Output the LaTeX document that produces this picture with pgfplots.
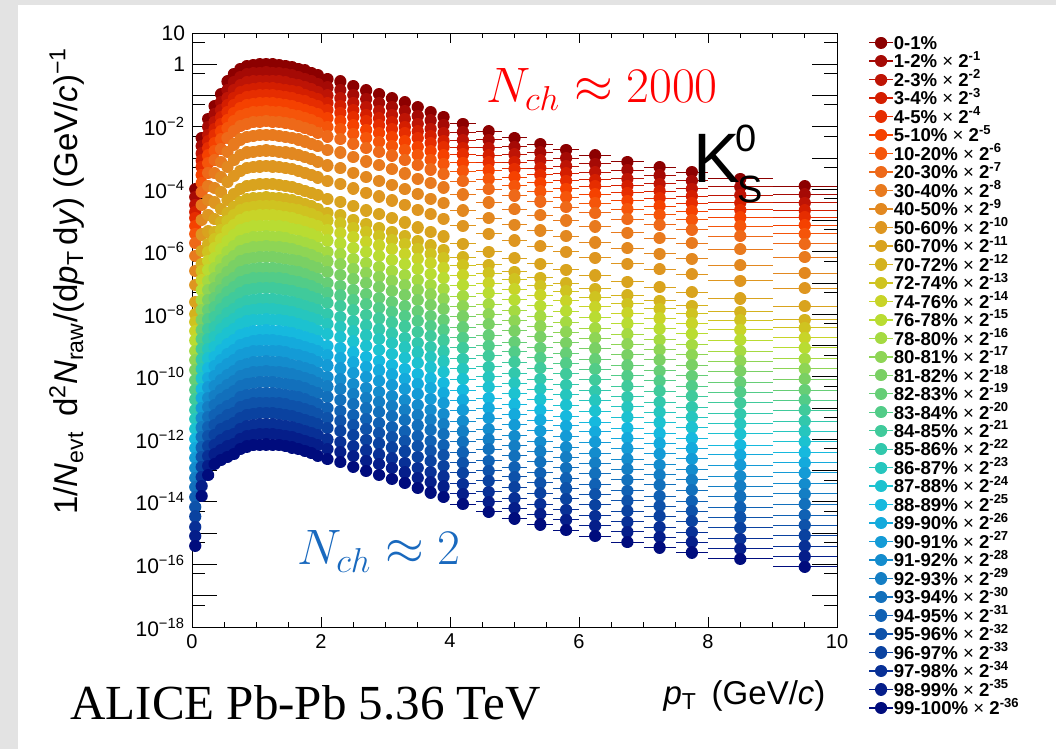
\documentclass[border=0pt]{standalone}
\usepackage{fontspec}
\setmainfont{Liberation Sans}
\newfontfamily\alicefont{Liberation Serif}
\usepackage{pgfplots}
\usepackage{pgfplotstable}
\pgfplotsset{compat=1.18}

\definecolor{c0}{RGB}{140,0,0}
\definecolor{c1}{RGB}{165,10,5}
\definecolor{c2}{RGB}{190,20,5}
\definecolor{c3}{RGB}{212,30,0}
\definecolor{c4}{RGB}{230,45,0}
\definecolor{c5}{RGB}{245,65,0}
\definecolor{c6}{RGB}{245,85,10}
\definecolor{c7}{RGB}{238,105,25}
\definecolor{c8}{RGB}{232,122,30}
\definecolor{c9}{RGB}{226,136,32}
\definecolor{c10}{RGB}{222,150,32}
\definecolor{c11}{RGB}{217,163,30}
\definecolor{c12}{RGB}{212,178,30}
\definecolor{c13}{RGB}{207,195,32}
\definecolor{c14}{RGB}{200,212,40}
\definecolor{c15}{RGB}{185,220,50}
\definecolor{c16}{RGB}{165,218,65}
\definecolor{c17}{RGB}{142,213,85}
\definecolor{c18}{RGB}{122,208,100}
\definecolor{c19}{RGB}{102,206,118}
\definecolor{c20}{RGB}{82,204,136}
\definecolor{c21}{RGB}{64,202,155}
\definecolor{c22}{RGB}{50,200,172}
\definecolor{c23}{RGB}{38,198,190}
\definecolor{c24}{RGB}{28,194,208}
\definecolor{c25}{RGB}{22,185,222}
\definecolor{c26}{RGB}{20,170,220}
\definecolor{c27}{RGB}{20,155,214}
\definecolor{c28}{RGB}{20,140,205}
\definecolor{c29}{RGB}{20,126,196}
\definecolor{c30}{RGB}{18,112,188}
\definecolor{c31}{RGB}{16,97,180}
\definecolor{c32}{RGB}{14,82,170}
\definecolor{c33}{RGB}{10,66,160}
\definecolor{c34}{RGB}{8,48,150}
\definecolor{c35}{RGB}{5,30,138}
\definecolor{c36}{RGB}{0,12,125}
\definecolor{nchblue}{RGB}{25,105,190}

% light-weight round marker: a tiny stroke with round caps
\pgfdeclareplotmark{rdot}{%
  \pgfsetlinewidth{2\pgfplotmarksize}%
  \pgfsetroundcap
  \pgfpathmoveto{\pgfpointorigin}%
  \pgfpathlineto{\pgfqpoint{0.01pt}{0pt}}%
  \pgfusepathqstroke}

\newcommand\cen[2]{#1\% {\mdseries ×} 2\textsuperscript{-#2}}

\pgfplotsset{
  lo/.style={forget plot, restrict x to domain=0:4},
  hi/.style={restrict x to domain=4:10,
    /pgfplots/error bars/x dir=both, /pgfplots/error bars/x explicit,
    /pgfplots/error bars/error mark=none,
    /pgfplots/error bars/error bar style={line width=0.5pt}},
}

% one row per centrality class, one column per pT bin (transposed below)
\pgfplotstableread{
name b1 b2 b3 b4 b5 b6 b7 b8 b9 b10 b11 b12 b13 b14 b15 b16 b17 b18 b19 b20 b21 b22 b23 b24 b25 b26 b27 b28 b29 b30 b31 b32 b33 b34 b35 b36 b37 b38 b39 b40 b41
pt 0.05 0.15 0.25 0.35 0.45 0.55 0.65 0.75 0.85 0.95 1.05 1.15 1.25 1.35 1.45 1.55 1.65 1.75 1.85 1.95 2.1 2.3 2.5 2.7 2.9 3.1 3.3 3.5 3.7 3.9 4.2 4.6 5.0 5.4 5.8 6.25 6.75 7.25 7.75 8.5 9.5
ex 0.05 0.05 0.05 0.05 0.05 0.05 0.05 0.05 0.05 0.05 0.05 0.05 0.05 0.05 0.05 0.05 0.05 0.05 0.05 0.05 0.1 0.1 0.1 0.1 0.1 0.1 0.1 0.1 0.1 0.1 0.2 0.2 0.2 0.2 0.2 0.25 0.25 0.25 0.25 0.5 0.5
y0 1.0e-4 4.4e-3 1.8e-2 4.6e-2 1.1e-1 2.8e-1 5.0e-1 7.2e-1 8.7e-1 9.5e-1 1.0 1.02 1.0 9.5e-1 8.9e-1 8.1e-1 7.2e-1 6.3e-1 5.4e-1 4.5e-1 3.4e-1 2.8e-1 2.0e-1 1.45e-1 1.1e-1 8.1e-2 6.0e-2 4.2e-2 2.95e-2 2.1e-2 1.26e-2 7.1e-3 4.4e-3 2.8e-3 1.86e-3 1.2e-3 7.6e-4 5.1e-4 3.55e-4 2.2e-4 1.26e-4
y1 5.6e-5 2.45e-3 1.0e-2 2.6e-2 6.2e-2 1.5e-1 2.7e-1 3.9e-1 4.7e-1 5.1e-1 5.4e-1 5.5e-1 5.4e-1 5.1e-1 4.8e-1 4.4e-1 3.9e-1 3.4e-1 2.9e-1 2.4e-1 1.8e-1 1.5e-1 1.07e-1 7.8e-2 5.9e-2 4.4e-2 3.2e-2 2.2e-2 1.6e-2 1.15e-2 6.8e-3 3.8e-3 2.3e-3 1.5e-3 1.0e-3 6.5e-4 4.1e-4 2.75e-4 1.9e-4 1.2e-4 6.8e-5
y2 3.2e-5 1.4e-3 5.6e-3 1.45e-2 3.5e-2 8.5e-2 1.5e-1 2.1e-1 2.6e-1 2.8e-1 2.95e-1 3.0e-1 2.95e-1 2.8e-1 2.6e-1 2.4e-1 2.1e-1 1.85e-1 1.6e-1 1.3e-1 1.0e-1 8.1e-2 5.9e-2 4.3e-2 3.2e-2 2.4e-2 1.8e-2 1.25e-2 8.7e-3 6.3e-3 3.7e-3 2.1e-3 1.3e-3 8.3e-4 5.5e-4 3.5e-4 2.2e-4 1.5e-4 1.05e-4 6.5e-5 3.7e-5
y3 1.9e-5 8.3e-4 3.4e-3 8.7e-3 2.0e-2 4.9e-2 8.5e-2 1.25e-1 1.5e-1 1.6e-1 1.7e-1 1.75e-1 1.7e-1 1.6e-1 1.5e-1 1.4e-1 1.25e-1 1.07e-1 9.1e-2 7.6e-2 5.8e-2 4.7e-2 3.4e-2 2.45e-2 1.85e-2 1.4e-2 1.0e-2 7.1e-3 5.0e-3 3.6e-3 2.1e-3 1.2e-3 7.4e-4 4.8e-4 3.2e-4 2.0e-4 1.3e-4 8.7e-5 6.0e-5 3.7e-5 2.1e-5
y4 1.2e-5 5.1e-4 2.1e-3 5.4e-3 1.25e-2 2.95e-2 5.1e-2 7.4e-2 8.9e-2 9.8e-2 1.0e-1 1.05e-1 1.0e-1 9.8e-2 9.1e-2 8.3e-2 7.4e-2 6.5e-2 5.5e-2 4.6e-2 3.5e-2 2.8e-2 2.0e-2 1.5e-2 1.1e-2 8.3e-3 6.2e-3 4.3e-3 3.0e-3 2.2e-3 1.3e-3 7.2e-4 4.5e-4 2.9e-4 1.9e-4 1.25e-4 7.8e-5 5.2e-5 3.6e-5 2.2e-5 1.3e-5
y5 6.8e-6 2.9e-4 1.2e-3 3.0e-3 7.1e-3 1.65e-2 2.8e-2 4.1e-2 4.9e-2 5.4e-2 5.6e-2 5.8e-2 5.6e-2 5.4e-2 5.0e-2 4.6e-2 4.1e-2 3.5e-2 3.0e-2 2.5e-2 1.9e-2 1.55e-2 1.1e-2 8.1e-3 6.2e-3 4.6e-3 3.4e-3 2.3e-3 1.65e-3 1.2e-3 7.1e-4 4.0e-4 2.45e-4 1.6e-4 1.05e-4 6.8e-5 4.3e-5 2.9e-5 2.0e-5 1.25e-5 7.1e-6
y6 3.8e-6 1.6e-4 6.8e-4 1.7e-3 3.9e-3 8.9e-3 1.5e-2 2.2e-2 2.6e-2 2.9e-2 3.0e-2 3.1e-2 3.0e-2 2.9e-2 2.7e-2 2.45e-2 2.2e-2 1.9e-2 1.6e-2 1.35e-2 1.0e-2 8.3e-3 6.0e-3 4.4e-3 3.3e-3 2.45e-3 1.8e-3 1.25e-3 8.9e-4 6.5e-4 3.8e-4 2.1e-4 1.3e-4 8.5e-5 5.6e-5 3.6e-5 2.3e-5 1.55e-5 1.07e-5 6.6e-6 3.8e-6
y7 1.9e-6 8.1e-5 3.4e-4 8.5e-4 1.9e-3 4.4e-3 7.2e-3 1.05e-2 1.25e-2 1.4e-2 1.45e-2 1.5e-2 1.45e-2 1.4e-2 1.3e-2 1.2e-2 1.05e-2 9.1e-3 7.8e-3 6.5e-3 4.9e-3 4.0e-3 2.9e-3 2.1e-3 1.6e-3 1.2e-3 8.7e-4 6.0e-4 4.3e-4 3.1e-4 1.8e-4 1.0e-4 6.3e-5 4.1e-5 2.7e-5 1.75e-5 1.1e-5 7.4e-6 5.1e-6 3.2e-6 1.8e-6
y8 7.4e-7 3.2e-5 1.3e-4 3.3e-4 7.4e-4 1.6e-3 2.7e-3 3.9e-3 4.7e-3 5.1e-3 5.4e-3 5.5e-3 5.4e-3 5.1e-3 4.8e-3 4.4e-3 3.9e-3 3.4e-3 2.9e-3 2.4e-3 1.8e-3 1.5e-3 1.07e-3 7.8e-4 5.9e-4 4.4e-4 3.2e-4 2.2e-4 1.6e-4 1.15e-4 6.8e-5 3.8e-5 2.3e-5 1.5e-5 1.0e-5 6.5e-6 4.1e-6 2.75e-6 1.9e-6 1.2e-6 6.8e-7
y9 2.5e-7 1.07e-5 4.5e-5 1.1e-4 2.45e-4 5.2e-4 8.5e-4 1.25e-3 1.5e-3 1.6e-3 1.7e-3 1.75e-3 1.7e-3 1.6e-3 1.5e-3 1.4e-3 1.25e-3 1.07e-3 9.1e-4 7.6e-4 5.8e-4 4.7e-4 3.4e-4 2.45e-4 1.85e-4 1.4e-4 1.0e-4 7.1e-5 5.0e-5 3.6e-5 2.1e-5 1.2e-5 7.4e-6 4.8e-6 3.2e-6 2.0e-6 1.3e-6 8.7e-7 6.0e-7 3.7e-7 2.1e-7
y10 8.7e-8 3.6e-6 1.55e-5 3.8e-5 8.1e-5 1.7e-4 2.7e-4 3.9e-4 4.7e-4 5.1e-4 5.4e-4 5.5e-4 5.4e-4 5.1e-4 4.8e-4 4.4e-4 3.9e-4 3.4e-4 2.9e-4 2.4e-4 1.8e-4 1.5e-4 1.07e-4 7.8e-5 5.9e-5 4.4e-5 3.2e-5 2.2e-5 1.6e-5 1.15e-5 6.8e-6 3.8e-6 2.3e-6 1.5e-6 1.0e-6 6.5e-7 4.1e-7 2.75e-7 1.9e-7 1.2e-7 6.8e-8
y11 2.5e-8 1.07e-6 4.5e-6 1.1e-5 2.3e-5 4.6e-5 7.2e-5 1.05e-4 1.25e-4 1.4e-4 1.45e-4 1.5e-4 1.45e-4 1.4e-4 1.3e-4 1.2e-4 1.05e-4 9.1e-5 7.8e-5 6.5e-5 4.9e-5 4.0e-5 2.9e-5 2.1e-5 1.6e-5 1.2e-5 8.7e-6 6.0e-6 4.3e-6 3.1e-6 1.8e-6 1.0e-6 6.3e-7 4.1e-7 2.7e-7 1.75e-7 1.1e-7 7.4e-8 5.1e-8 3.2e-8 1.8e-8
y12 1.0e-8 4.2e-7 1.8e-6 4.4e-6 8.9e-6 1.75e-5 2.7e-5 3.9e-5 4.7e-5 5.1e-5 5.4e-5 5.5e-5 5.4e-5 5.1e-5 4.8e-5 4.4e-5 3.9e-5 3.4e-5 2.9e-5 2.4e-5 1.8e-5 1.5e-5 1.07e-5 7.8e-6 5.9e-6 4.4e-6 3.2e-6 2.2e-6 1.6e-6 1.15e-6 6.8e-7 3.8e-7 2.3e-7 1.5e-7 1.0e-7 6.5e-8 4.1e-8 2.75e-8 1.9e-8 1.2e-8 6.8e-9
y13 5.8e-9 2.4e-7 1.0e-6 2.5e-6 5.0e-6 9.5e-6 1.5e-5 2.1e-5 2.6e-5 2.8e-5 2.95e-5 3.0e-5 2.95e-5 2.8e-5 2.6e-5 2.4e-5 2.1e-5 1.85e-5 1.6e-5 1.3e-5 1.0e-5 8.1e-6 5.9e-6 4.3e-6 3.2e-6 2.4e-6 1.8e-6 1.25e-6 8.7e-7 6.3e-7 3.7e-7 2.1e-7 1.3e-7 8.3e-8 5.5e-8 3.5e-8 2.2e-8 1.5e-8 1.05e-8 6.5e-9 3.7e-9
y14 2.9e-9 1.25e-7 5.1e-7 1.3e-6 2.5e-6 4.8e-6 7.2e-6 1.05e-5 1.25e-5 1.4e-5 1.45e-5 1.5e-5 1.45e-5 1.4e-5 1.3e-5 1.2e-5 1.05e-5 9.1e-6 7.8e-6 6.5e-6 4.9e-6 4.0e-6 2.9e-6 2.1e-6 1.6e-6 1.2e-6 8.7e-7 6.0e-7 4.3e-7 3.1e-7 1.8e-7 1.0e-7 6.3e-8 4.1e-8 2.7e-8 1.75e-8 1.1e-8 7.4e-9 5.1e-9 3.2e-9 1.8e-9
y15 1.45e-9 5.9e-8 2.6e-7 6.2e-7 1.2e-6 2.2e-6 3.4e-6 4.9e-6 5.9e-6 6.5e-6 6.8e-6 6.9e-6 6.8e-6 6.5e-6 6.0e-6 5.5e-6 4.9e-6 4.3e-6 3.6e-6 3.0e-6 2.3e-6 1.85e-6 1.35e-6 9.8e-7 7.4e-7 5.5e-7 4.1e-7 2.8e-7 2.0e-7 1.45e-7 8.5e-8 4.8e-8 2.95e-8 1.9e-8 1.25e-8 8.1e-9 5.1e-9 3.5e-9 2.4e-9 1.5e-9 8.5e-10
y16 6.8e-10 2.8e-8 1.2e-7 2.95e-7 5.6e-7 1.0e-6 1.5e-6 2.2e-6 2.6e-6 2.9e-6 3.0e-6 3.1e-6 3.0e-6 2.9e-6 2.7e-6 2.45e-6 2.2e-6 1.9e-6 1.6e-6 1.35e-6 1.0e-6 8.3e-7 6.0e-7 4.4e-7 3.3e-7 2.45e-7 1.8e-7 1.25e-7 8.9e-8 6.5e-8 3.8e-8 2.1e-8 1.3e-8 8.5e-9 5.6e-9 3.6e-9 2.3e-9 1.55e-9 1.07e-9 6.6e-10 3.8e-10
y17 3.4e-10 1.4e-8 6.0e-8 1.45e-7 2.75e-7 4.9e-7 7.2e-7 1.05e-6 1.25e-6 1.4e-6 1.45e-6 1.5e-6 1.45e-6 1.4e-6 1.3e-6 1.2e-6 1.05e-6 9.1e-7 7.8e-7 6.5e-7 4.9e-7 4.0e-7 2.9e-7 2.1e-7 1.6e-7 1.2e-7 8.7e-8 6.0e-8 4.3e-8 3.1e-8 1.8e-8 1.0e-8 6.3e-9 4.1e-9 2.7e-9 1.75e-9 1.1e-9 7.4e-10 5.1e-10 3.2e-10 1.8e-10
y18 1.65e-10 6.8e-9 2.95e-8 7.1e-8 1.3e-7 2.3e-7 3.4e-7 4.9e-7 5.9e-7 6.5e-7 6.8e-7 6.9e-7 6.8e-7 6.5e-7 6.0e-7 5.5e-7 4.9e-7 4.3e-7 3.6e-7 3.0e-7 2.3e-7 1.85e-7 1.35e-7 9.8e-8 7.4e-8 5.5e-8 4.1e-8 2.8e-8 2.0e-8 1.45e-8 8.5e-9 4.8e-9 2.95e-9 1.9e-9 1.25e-9 8.1e-10 5.1e-10 3.5e-10 2.4e-10 1.5e-10 8.5e-11
y19 7.8e-11 3.2e-9 1.4e-8 3.3e-8 6.0e-8 1.05e-7 1.5e-7 2.2e-7 2.6e-7 2.9e-7 3.0e-7 3.1e-7 3.0e-7 2.9e-7 2.7e-7 2.45e-7 2.2e-7 1.9e-7 1.6e-7 1.35e-7 1.0e-7 8.3e-8 6.0e-8 4.4e-8 3.3e-8 2.45e-8 1.8e-8 1.25e-8 8.9e-9 6.5e-9 3.8e-9 2.1e-9 1.3e-9 8.5e-10 5.6e-10 3.6e-10 2.3e-10 1.55e-10 1.07e-10 6.6e-11 3.8e-11
y20 3.9e-11 1.6e-9 6.9e-9 1.65e-8 3.0e-8 5.1e-8 7.2e-8 1.05e-7 1.25e-7 1.4e-7 1.45e-7 1.5e-7 1.45e-7 1.4e-7 1.3e-7 1.2e-7 1.05e-7 9.1e-8 7.8e-8 6.5e-8 4.9e-8 4.0e-8 2.9e-8 2.1e-8 1.6e-8 1.2e-8 8.7e-9 6.0e-9 4.3e-9 3.1e-9 1.8e-9 1.0e-9 6.3e-10 4.1e-10 2.7e-10 1.75e-10 1.1e-10 7.4e-11 5.1e-11 3.2e-11 1.8e-11
y21 1.9e-11 7.8e-10 3.4e-9 8.1e-9 1.45e-8 2.4e-8 3.4e-8 4.9e-8 5.9e-8 6.5e-8 6.8e-8 6.9e-8 6.8e-8 6.5e-8 6.0e-8 5.5e-8 4.9e-8 4.3e-8 3.6e-8 3.0e-8 2.3e-8 1.85e-8 1.35e-8 9.8e-9 7.4e-9 5.5e-9 4.1e-9 2.8e-9 2.0e-9 1.45e-9 8.5e-10 4.8e-10 2.95e-10 1.9e-10 1.25e-10 8.1e-11 5.1e-11 3.5e-11 2.4e-11 1.5e-11 8.5e-12
y22 8.9e-12 3.6e-10 1.6e-9 3.8e-9 6.6e-9 1.1e-8 1.5e-8 2.2e-8 2.6e-8 2.9e-8 3.0e-8 3.1e-8 3.0e-8 2.9e-8 2.7e-8 2.45e-8 2.2e-8 1.9e-8 1.6e-8 1.35e-8 1.0e-8 8.3e-9 6.0e-9 4.4e-9 3.3e-9 2.45e-9 1.8e-9 1.25e-9 8.9e-10 6.5e-10 3.8e-10 2.1e-10 1.3e-10 8.5e-11 5.6e-11 3.6e-11 2.3e-11 1.55e-11 1.07e-11 6.6e-12 3.8e-12
y23 4.5e-12 1.8e-10 7.9e-10 1.9e-9 3.3e-9 5.2e-9 7.2e-9 1.05e-8 1.25e-8 1.4e-8 1.45e-8 1.5e-8 1.45e-8 1.4e-8 1.3e-8 1.2e-8 1.05e-8 9.1e-9 7.8e-9 6.5e-9 4.9e-9 4.0e-9 2.9e-9 2.1e-9 1.6e-9 1.2e-9 8.7e-10 6.0e-10 4.3e-10 3.1e-10 1.8e-10 1.0e-10 6.3e-11 4.1e-11 2.7e-11 1.75e-11 1.1e-11 7.4e-12 5.1e-12 3.2e-12 1.8e-12
y24 2.2e-12 8.9e-11 3.9e-10 9.3e-10 1.6e-9 2.45e-9 3.4e-9 4.9e-9 5.9e-9 6.5e-9 6.8e-9 6.9e-9 6.8e-9 6.5e-9 6.0e-9 5.5e-9 4.9e-9 4.3e-9 3.6e-9 3.0e-9 2.3e-9 1.85e-9 1.35e-9 9.8e-10 7.4e-10 5.5e-10 4.1e-10 2.8e-10 2.0e-10 1.45e-10 8.5e-11 4.8e-11 2.95e-11 1.9e-11 1.25e-11 8.1e-12 5.1e-12 3.5e-12 2.4e-12 1.5e-12 8.5e-13
y25 1.05e-12 4.2e-11 1.85e-10 4.4e-10 7.2e-10 1.1e-9 1.5e-9 2.2e-9 2.6e-9 2.9e-9 3.0e-9 3.1e-9 3.0e-9 2.9e-9 2.7e-9 2.45e-9 2.2e-9 1.9e-9 1.6e-9 1.35e-9 1.0e-9 8.3e-10 6.0e-10 4.4e-10 3.3e-10 2.45e-10 1.8e-10 1.25e-10 8.9e-11 6.5e-11 3.8e-11 2.1e-11 1.3e-11 8.5e-12 5.6e-12 3.6e-12 2.3e-12 1.55e-12 1.07e-12 6.6e-13 3.8e-13
y26 5.2e-13 2.1e-11 9.3e-11 2.2e-10 3.5e-10 5.4e-10 7.2e-10 1.05e-9 1.25e-9 1.4e-9 1.45e-9 1.5e-9 1.45e-9 1.4e-9 1.3e-9 1.2e-9 1.05e-9 9.1e-10 7.8e-10 6.5e-10 4.9e-10 4.0e-10 2.9e-10 2.1e-10 1.6e-10 1.2e-10 8.7e-11 6.0e-11 4.3e-11 3.1e-11 1.8e-11 1.0e-11 6.3e-12 4.1e-12 2.7e-12 1.75e-12 1.1e-12 7.4e-13 5.1e-13 3.2e-13 1.8e-13
y27 2.6e-13 1.0e-11 4.6e-11 1.07e-10 1.75e-10 2.6e-10 3.4e-10 4.9e-10 5.9e-10 6.5e-10 6.8e-10 6.9e-10 6.8e-10 6.5e-10 6.0e-10 5.5e-10 4.9e-10 4.3e-10 3.6e-10 3.0e-10 2.3e-10 1.85e-10 1.35e-10 9.8e-11 7.4e-11 5.5e-11 4.1e-11 2.8e-11 2.0e-11 1.45e-11 8.5e-12 4.8e-12 2.95e-12 1.9e-12 1.25e-12 8.1e-13 5.1e-13 3.5e-13 2.4e-13 1.5e-13 8.5e-14
y28 1.2e-13 4.8e-12 2.1e-11 5.0e-11 7.9e-11 1.15e-10 1.5e-10 2.2e-10 2.6e-10 2.9e-10 3.0e-10 3.1e-10 3.0e-10 2.9e-10 2.7e-10 2.45e-10 2.2e-10 1.9e-10 1.6e-10 1.35e-10 1.0e-10 8.3e-11 6.0e-11 4.4e-11 3.3e-11 2.45e-11 1.8e-11 1.25e-11 8.9e-12 6.5e-12 3.8e-12 2.1e-12 1.3e-12 8.5e-13 5.6e-13 3.6e-13 2.3e-13 1.55e-13 1.07e-13 6.6e-14 3.8e-14
y29 6.0e-14 2.4e-12 1.07e-11 2.5e-11 3.9e-11 5.6e-11 7.2e-11 1.05e-10 1.25e-10 1.4e-10 1.45e-10 1.5e-10 1.45e-10 1.4e-10 1.3e-10 1.2e-10 1.05e-10 9.1e-11 7.8e-11 6.5e-11 4.9e-11 4.0e-11 2.9e-11 2.1e-11 1.6e-11 1.2e-11 8.7e-12 6.0e-12 4.3e-12 3.1e-12 1.8e-12 1.0e-12 6.3e-13 4.1e-13 2.7e-13 1.75e-13 1.1e-13 7.4e-14 5.1e-14 3.2e-14 1.8e-14
y30 2.95e-14 1.2e-12 5.2e-12 1.25e-11 1.9e-11 2.6e-11 3.4e-11 4.9e-11 5.9e-11 6.5e-11 6.8e-11 6.9e-11 6.8e-11 6.5e-11 6.0e-11 5.5e-11 4.9e-11 4.3e-11 3.6e-11 3.0e-11 2.3e-11 1.85e-11 1.35e-11 9.8e-12 7.4e-12 5.5e-12 4.1e-12 2.8e-12 2.0e-12 1.45e-12 8.5e-13 4.8e-13 2.95e-13 1.9e-13 1.25e-13 8.1e-14 5.1e-14 3.5e-14 2.4e-14 1.5e-14 8.5e-15
y31 1.4e-14 5.5e-13 2.45e-12 5.8e-12 8.7e-12 1.2e-11 1.5e-11 2.2e-11 2.6e-11 2.9e-11 3.0e-11 3.1e-11 3.0e-11 2.9e-11 2.7e-11 2.45e-11 2.2e-11 1.9e-11 1.6e-11 1.35e-11 1.0e-11 8.3e-12 6.0e-12 4.4e-12 3.3e-12 2.45e-12 1.8e-12 1.25e-12 8.9e-13 6.5e-13 3.8e-13 2.1e-13 1.3e-13 8.5e-14 5.6e-14 3.6e-14 2.3e-14 1.55e-14 1.07e-14 6.6e-15 3.8e-15
y32 6.9e-15 2.75e-13 1.25e-12 2.9e-12 4.3e-12 5.8e-12 7.2e-12 1.05e-11 1.25e-11 1.4e-11 1.45e-11 1.5e-11 1.45e-11 1.4e-11 1.3e-11 1.2e-11 1.05e-11 9.1e-12 7.8e-12 6.5e-12 4.9e-12 4.0e-12 2.9e-12 2.1e-12 1.6e-12 1.2e-12 8.7e-13 6.0e-13 4.3e-13 3.1e-13 1.8e-13 1.0e-13 6.3e-14 4.1e-14 2.7e-14 1.75e-14 1.1e-14 7.4e-15 5.1e-15 3.2e-15 1.8e-15
y33 3.4e-15 1.35e-13 6.0e-13 1.4e-12 2.1e-12 2.75e-12 3.4e-12 4.9e-12 5.9e-12 6.5e-12 6.8e-12 6.9e-12 6.8e-12 6.5e-12 6.0e-12 5.5e-12 4.9e-12 4.3e-12 3.6e-12 3.0e-12 2.3e-12 1.85e-12 1.35e-12 9.8e-13 7.4e-13 5.5e-13 4.1e-13 2.8e-13 2.0e-13 1.45e-13 8.5e-14 4.8e-14 2.95e-14 1.9e-14 1.25e-14 8.1e-15 5.1e-15 3.5e-15 2.4e-15 1.5e-15 8.5e-16
y34 1.6e-15 6.3e-14 2.9e-13 6.6e-13 9.5e-13 1.25e-12 1.5e-12 2.2e-12 2.6e-12 2.9e-12 3.0e-12 3.1e-12 3.0e-12 2.9e-12 2.7e-12 2.45e-12 2.2e-12 1.9e-12 1.6e-12 1.35e-12 1.0e-12 8.3e-13 6.0e-13 4.4e-13 3.3e-13 2.45e-13 1.8e-13 1.25e-13 8.9e-14 6.5e-14 3.8e-14 2.1e-14 1.3e-14 8.5e-15 5.6e-15 3.6e-15 2.3e-15 1.55e-15 1.07e-15 6.6e-16 3.8e-16
y35 8.1e-16 3.2e-14 1.45e-13 3.3e-13 4.7e-13 6.0e-13 7.2e-13 1.05e-12 1.25e-12 1.4e-12 1.45e-12 1.5e-12 1.45e-12 1.4e-12 1.3e-12 1.2e-12 1.05e-12 9.1e-13 7.8e-13 6.5e-13 4.9e-13 4.0e-13 2.9e-13 2.1e-13 1.6e-13 1.2e-13 8.7e-14 6.0e-14 4.3e-14 3.1e-14 1.8e-14 1.0e-14 6.3e-15 4.1e-15 2.7e-15 1.75e-15 1.1e-15 7.4e-16 5.1e-16 3.2e-16 1.8e-16
y36 4.0e-16 1.55e-14 7.1e-14 1.6e-13 2.2e-13 2.8e-13 3.4e-13 4.9e-13 5.9e-13 6.5e-13 6.8e-13 6.9e-13 6.8e-13 6.5e-13 6.0e-13 5.5e-13 4.9e-13 4.3e-13 3.6e-13 3.0e-13 2.3e-13 1.85e-13 1.35e-13 9.8e-14 7.4e-14 5.5e-14 4.1e-14 2.8e-14 2.0e-14 1.45e-14 8.5e-15 4.8e-15 2.95e-15 1.9e-15 1.25e-15 8.1e-16 5.1e-16 3.5e-16 2.4e-16 1.5e-16 8.5e-17
}\Kraw
\pgfplotstabletranspose[colnames from=name]{\Kspec}{\Kraw}

\begin{document}
\begin{tikzpicture}
\fill[black!11] (0pt,0pt) rectangle (528pt,374.5pt);
\fill[white] (9pt,0pt) rectangle (528pt,372pt);
\begin{axis}[
  at={(96pt,61pt)}, anchor=south west,
  scale only axis, width=322.5pt, height=297pt,
  xmin=0, xmax=10, ymode=log, ymin=1e-18, ymax=10,
  clip=false, axis on top,
  axis line style={black, line width=0.5pt},
  tick style={black, line width=0.5pt},
  xtick style={/pgfplots/major tick length=5pt, /pgfplots/minor tick length=2.5pt},
  ytick style={/pgfplots/major tick length=12.5pt, /pgfplots/minor tick length=6.5pt},
  xtick={0,2,4,6,8,10}, xticklabels={0,2,4,6,8,10}, minor x tick num=3,
  ytick={10,1,1e-1,1e-2,1e-3,1e-4,1e-5,1e-6,1e-7,1e-8,1e-9,1e-10,1e-11,1e-12,1e-13,1e-14,1e-15,1e-16,1e-17,1e-18},
  yticklabels={10,1,,10\textsuperscript{−2},,10\textsuperscript{−4},,10\textsuperscript{−6},,10\textsuperscript{−8},,10\textsuperscript{−10},,10\textsuperscript{−12},,10\textsuperscript{−14},,10\textsuperscript{−16},,10\textsuperscript{−18}},
  minor ytick={5,5e-1,5e-2,5e-3,5e-4,5e-5,5e-6,5e-7,5e-8,5e-9,5e-10,5e-11,5e-12,5e-13,5e-14,5e-15,5e-16,5e-17,5e-18},
  xticklabel style={font=\fontsize{10}{12}\selectfont},
  yticklabel style={font=\fontsize{10.5}{12}\selectfont},
  xlabel={\textit{p}\textsubscript{T}\, (GeV/\textit{c})},
  ylabel={1/\textit{N}\textsubscript{evt}\, d\textsuperscript{2}\textit{N}\textsubscript{raw}/(d\textit{p}\textsubscript{T}\,d\textit{y}) (GeV/\textit{c})\textsuperscript{−1}},
  every axis x label/.style={at={(axis description cs:0.993,-0.131)}, anchor=base east,
    font=\fontsize{16.5}{19}\selectfont},
  every axis y label/.style={at={(axis description cs:-0.177,0.5825)}, rotate=90, anchor=base,
    font=\fontsize{16.5}{19}\selectfont},
  every axis plot/.append style={only marks, mark=rdot, mark size=3.05pt},
  legend cell align=left,
  legend style={at={(1.048,1)}, anchor=north west, draw=none, fill=none, inner sep=0pt,
    row sep=0pt, font=\bfseries\fontsize{9.3}{9.3}\selectfont,
    nodes={inner sep=0pt, text height=8pt, text depth=1.24pt},
    /tikz/every even column/.append style={column sep=2.5pt}},
  legend image code/.code={
    \draw[#1, solid, line width=0.7pt] (0pt,0pt) -- (12pt,0pt);
    \draw[#1] plot coordinates {(6pt,0pt)};},
]
\addplot[c0, lo] table[x=pt, y=y0] {\Kspec};
\addplot[c0, hi] table[x=pt, y=y0, x error=ex] {\Kspec}; \addlegendentry{0-1\%}
\addplot[c1, lo] table[x=pt, y=y1] {\Kspec};
\addplot[c1, hi] table[x=pt, y=y1, x error=ex] {\Kspec}; \addlegendentry{\cen{1-2}{1}}
\addplot[c2, lo] table[x=pt, y=y2] {\Kspec};
\addplot[c2, hi] table[x=pt, y=y2, x error=ex] {\Kspec}; \addlegendentry{\cen{2-3}{2}}
\addplot[c3, lo] table[x=pt, y=y3] {\Kspec};
\addplot[c3, hi] table[x=pt, y=y3, x error=ex] {\Kspec}; \addlegendentry{\cen{3-4}{3}}
\addplot[c4, lo] table[x=pt, y=y4] {\Kspec};
\addplot[c4, hi] table[x=pt, y=y4, x error=ex] {\Kspec}; \addlegendentry{\cen{4-5}{4}}
\addplot[c5, lo] table[x=pt, y=y5] {\Kspec};
\addplot[c5, hi] table[x=pt, y=y5, x error=ex] {\Kspec}; \addlegendentry{\cen{5-10}{5}}
\addplot[c6, lo] table[x=pt, y=y6] {\Kspec};
\addplot[c6, hi] table[x=pt, y=y6, x error=ex] {\Kspec}; \addlegendentry{\cen{10-20}{6}}
\addplot[c7, lo] table[x=pt, y=y7] {\Kspec};
\addplot[c7, hi] table[x=pt, y=y7, x error=ex] {\Kspec}; \addlegendentry{\cen{20-30}{7}}
\addplot[c8, lo] table[x=pt, y=y8] {\Kspec};
\addplot[c8, hi] table[x=pt, y=y8, x error=ex] {\Kspec}; \addlegendentry{\cen{30-40}{8}}
\addplot[c9, lo] table[x=pt, y=y9] {\Kspec};
\addplot[c9, hi] table[x=pt, y=y9, x error=ex] {\Kspec}; \addlegendentry{\cen{40-50}{9}}
\addplot[c10, lo] table[x=pt, y=y10] {\Kspec};
\addplot[c10, hi] table[x=pt, y=y10, x error=ex] {\Kspec}; \addlegendentry{\cen{50-60}{10}}
\addplot[c11, lo] table[x=pt, y=y11] {\Kspec};
\addplot[c11, hi] table[x=pt, y=y11, x error=ex] {\Kspec}; \addlegendentry{\cen{60-70}{11}}
\addplot[c12, lo] table[x=pt, y=y12] {\Kspec};
\addplot[c12, hi] table[x=pt, y=y12, x error=ex] {\Kspec}; \addlegendentry{\cen{70-72}{12}}
\addplot[c13, lo] table[x=pt, y=y13] {\Kspec};
\addplot[c13, hi] table[x=pt, y=y13, x error=ex] {\Kspec}; \addlegendentry{\cen{72-74}{13}}
\addplot[c14, lo] table[x=pt, y=y14] {\Kspec};
\addplot[c14, hi] table[x=pt, y=y14, x error=ex] {\Kspec}; \addlegendentry{\cen{74-76}{14}}
\addplot[c15, lo] table[x=pt, y=y15] {\Kspec};
\addplot[c15, hi] table[x=pt, y=y15, x error=ex] {\Kspec}; \addlegendentry{\cen{76-78}{15}}
\addplot[c16, lo] table[x=pt, y=y16] {\Kspec};
\addplot[c16, hi] table[x=pt, y=y16, x error=ex] {\Kspec}; \addlegendentry{\cen{78-80}{16}}
\addplot[c17, lo] table[x=pt, y=y17] {\Kspec};
\addplot[c17, hi] table[x=pt, y=y17, x error=ex] {\Kspec}; \addlegendentry{\cen{80-81}{17}}
\addplot[c18, lo] table[x=pt, y=y18] {\Kspec};
\addplot[c18, hi] table[x=pt, y=y18, x error=ex] {\Kspec}; \addlegendentry{\cen{81-82}{18}}
\addplot[c19, lo] table[x=pt, y=y19] {\Kspec};
\addplot[c19, hi] table[x=pt, y=y19, x error=ex] {\Kspec}; \addlegendentry{\cen{82-83}{19}}
\addplot[c20, lo] table[x=pt, y=y20] {\Kspec};
\addplot[c20, hi] table[x=pt, y=y20, x error=ex] {\Kspec}; \addlegendentry{\cen{83-84}{20}}
\addplot[c21, lo] table[x=pt, y=y21] {\Kspec};
\addplot[c21, hi] table[x=pt, y=y21, x error=ex] {\Kspec}; \addlegendentry{\cen{84-85}{21}}
\addplot[c22, lo] table[x=pt, y=y22] {\Kspec};
\addplot[c22, hi] table[x=pt, y=y22, x error=ex] {\Kspec}; \addlegendentry{\cen{85-86}{22}}
\addplot[c23, lo] table[x=pt, y=y23] {\Kspec};
\addplot[c23, hi] table[x=pt, y=y23, x error=ex] {\Kspec}; \addlegendentry{\cen{86-87}{23}}
\addplot[c24, lo] table[x=pt, y=y24] {\Kspec};
\addplot[c24, hi] table[x=pt, y=y24, x error=ex] {\Kspec}; \addlegendentry{\cen{87-88}{24}}
\addplot[c25, lo] table[x=pt, y=y25] {\Kspec};
\addplot[c25, hi] table[x=pt, y=y25, x error=ex] {\Kspec}; \addlegendentry{\cen{88-89}{25}}
\addplot[c26, lo] table[x=pt, y=y26] {\Kspec};
\addplot[c26, hi] table[x=pt, y=y26, x error=ex] {\Kspec}; \addlegendentry{\cen{89-90}{26}}
\addplot[c27, lo] table[x=pt, y=y27] {\Kspec};
\addplot[c27, hi] table[x=pt, y=y27, x error=ex] {\Kspec}; \addlegendentry{\cen{90-91}{27}}
\addplot[c28, lo] table[x=pt, y=y28] {\Kspec};
\addplot[c28, hi] table[x=pt, y=y28, x error=ex] {\Kspec}; \addlegendentry{\cen{91-92}{28}}
\addplot[c29, lo] table[x=pt, y=y29] {\Kspec};
\addplot[c29, hi] table[x=pt, y=y29, x error=ex] {\Kspec}; \addlegendentry{\cen{92-93}{29}}
\addplot[c30, lo] table[x=pt, y=y30] {\Kspec};
\addplot[c30, hi] table[x=pt, y=y30, x error=ex] {\Kspec}; \addlegendentry{\cen{93-94}{30}}
\addplot[c31, lo] table[x=pt, y=y31] {\Kspec};
\addplot[c31, hi] table[x=pt, y=y31, x error=ex] {\Kspec}; \addlegendentry{\cen{94-95}{31}}
\addplot[c32, lo] table[x=pt, y=y32] {\Kspec};
\addplot[c32, hi] table[x=pt, y=y32, x error=ex] {\Kspec}; \addlegendentry{\cen{95-96}{32}}
\addplot[c33, lo] table[x=pt, y=y33] {\Kspec};
\addplot[c33, hi] table[x=pt, y=y33, x error=ex] {\Kspec}; \addlegendentry{\cen{96-97}{33}}
\addplot[c34, lo] table[x=pt, y=y34] {\Kspec};
\addplot[c34, hi] table[x=pt, y=y34, x error=ex] {\Kspec}; \addlegendentry{\cen{97-98}{34}}
\addplot[c35, lo] table[x=pt, y=y35] {\Kspec};
\addplot[c35, hi] table[x=pt, y=y35, x error=ex] {\Kspec}; \addlegendentry{\cen{98-99}{35}}
\addplot[c36, lo] table[x=pt, y=y36] {\Kspec};
\addplot[c36, hi] table[x=pt, y=y36, x error=ex] {\Kspec}; \addlegendentry{\cen{99-100}{36}}
\end{axis}
% annotations (picture coordinates, 1 px of the reference = 0.5pt)
\node[anchor=base, inner sep=0pt, text=red, font=\fontsize{24}{28}\selectfont] at (301pt,323pt) {$N_{ch} \approx 2000$};
\node[anchor=base, inner sep=0pt, text=nchblue, font=\fontsize{24}{28}\selectfont] at (189.5pt,92pt) {$N_{ch} \approx 2$};
\node[anchor=base west, inner sep=0pt, font=\fontsize{35}{40}\selectfont] at (346.5pt,283pt) {K};
\node[inner sep=0pt, font=\fontsize{19}{22}\selectfont] at (373pt,305.25pt) {0};
\node[inner sep=0pt, font=\fontsize{19}{22}\selectfont] at (375pt,280pt) {S};
\node[anchor=base west, inner sep=0pt, font=\alicefont\fontsize{24.5}{28}\selectfont] at (35pt,14.5pt) {ALICE Pb-Pb 5.36 TeV};
\end{tikzpicture}
\end{document}
